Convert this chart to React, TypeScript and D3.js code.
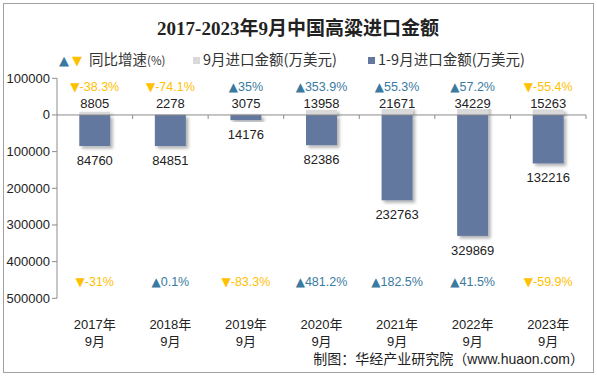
import React from "react";
import * as d3 from "d3";

const years = ["2017年", "2018年", "2019年", "2020年", "2021年", "2022年", "2023年"];
const monthLabel = "9月";
const sepValues = [8805, 2278, 3075, 13958, 21671, 34229, 15263];
const cumValues = [84760, 84851, 14176, 82386, 232763, 329869, 132216];
const sepGrowth = [-38.3, -74.1, 35, 353.9, 55.3, 57.2, -55.4];
const cumGrowth = [-31, 0.1, -83.3, 481.2, 182.5, 41.5, -59.9];
const yTicks = [100000, 0, -100000, -200000, -300000, -400000, -500000];

const W = 597;
const H = 377;
const UP = "#3a7aa0";
const DOWN = "#ffc000";
const BLUE = "#64789f";
const GRAY = "#d9d9d9";
const NUM_FONT = "'Liberation Sans', Arial, sans-serif";
const CJK_FONT = "'Liberation Sans', 'Noto Sans CJK SC', sans-serif";
const TRI_FONT = "'DejaVu Sans', sans-serif";

export default function App() {
  const x = d3.scaleBand<string>().domain(years).range([57, 586]).paddingInner(0).paddingOuter(0);
  const y = d3.scaleLinear().domain([100000, -500000]).range([78.3, 298.3]);
  const barW = 31;
  const y0 = y(0);

  const pct = (v: number, cx: number, yy: number) => (
    <text x={cx} y={yy} fill={v >= 0 ? UP : DOWN} fontSize={12.5} textAnchor="middle" fontFamily={NUM_FONT}>
      <tspan fontFamily={TRI_FONT} fontSize={12}>{v >= 0 ? "▲" : "▼"}</tspan>
      {String(v) + "%"}
    </text>
  );

  return (
    <svg width={W} height={H} style={{ position: "absolute", left: 0, top: 0, background: "#fff" }}>
      <defs>
        <filter id="sh" x="-20%" y="-20%" width="150%" height="150%">
          <feDropShadow dx="2.5" dy="2.5" stdDeviation="1.5" floodColor="#000" floodOpacity="0.3" />
        </filter>
      </defs>
      <rect x={3.5} y={3.5} width={590} height={369} fill="#fff" stroke="#a0a0a0" strokeWidth={1} />
      <text x={298} y={35} textAnchor="middle" fontSize={19} fontWeight="bold"
        fontFamily="'Liberation Serif', 'Noto Sans CJK SC', serif" fill="#222">
        2017-2023年9月中国高粱进口金额
      </text>

      {/* legend */}
      <g fontFamily="'Noto Sans CJK SC', sans-serif" fontSize={14.5} fill="#333">
        <text x={59} y={65} fontSize={13} fill={UP} fontFamily={TRI_FONT}>▲</text>
        <text x={72} y={65} fontSize={13} fill={DOWN} fontFamily={TRI_FONT}>▼</text>
        <text x={89} y={65}>同比增速<tspan fontSize={11.5}>(%)</tspan></text>
        <rect x={193} y={57} width={7} height={7} fill={GRAY} />
        <text x={203} y={65}>9月进口金额(万美元)</text>
        <rect x={368} y={57} width={7} height={7} fill={BLUE} />
        <text x={378} y={65}>1-9月进口金额(万美元)</text>
      </g>

      {/* y axis */}
      <line x1={57} x2={57} y1={y(100000)} y2={y(-500000)} stroke="#8c8c8c" />
      {yTicks.map((t) => (
        <g key={t}>
          <line x1={52} x2={57} y1={y(t)} y2={y(t)} stroke="#8c8c8c" />
          <text x={50} y={y(t) + 4.5} textAnchor="end" fontSize={13} fontFamily={NUM_FONT} fill="#222">
            {Math.abs(t)}
          </text>
        </g>
      ))}

      {/* bars */}
      {years.map((yr, i) => {
        const cx = (x(yr) as number) + x.bandwidth() / 2;
        return (
          <g key={yr}>
            <rect x={cx - barW / 2} y={y(sepValues[i])} width={barW} height={y0 - y(sepValues[i])}
              fill={GRAY} filter="url(#sh)" />
            <rect x={cx - barW / 2} y={y0} width={barW} height={y(-cumValues[i]) - y0}
              fill={BLUE} filter="url(#sh)" />
          </g>
        );
      })}

      {/* x axis */}
      <line x1={57} x2={586} y1={y0} y2={y0} stroke="#8c8c8c" />
      {years.map((yr) => (
        <line key={yr} x1={(x(yr) as number) + x.bandwidth()} x2={(x(yr) as number) + x.bandwidth()}
          y1={y0} y2={y0 + 4} stroke="#8c8c8c" />
      ))}

      {/* labels */}
      {years.map((yr, i) => {
        const cx = (x(yr) as number) + x.bandwidth() / 2;
        return (
          <g key={yr} fontFamily={NUM_FONT} fontSize={13} textAnchor="middle">
            {pct(sepGrowth[i], cx, 91)}
            <rect x={cx - 22} y={97} width={44} height={12} fill="#fff" />
            <text x={cx} y={107.5} fill="#222">{sepValues[i]}</text>
            <text x={cx} y={y(-cumValues[i]) + 19} fill="#222">{cumValues[i]}</text>
            {pct(cumGrowth[i], cx, 286)}
            <text x={cx} y={329} fill="#222" fontFamily={CJK_FONT}>{yr}</text>
            <text x={cx} y={346} fill="#222" fontFamily={CJK_FONT}>{monthLabel}</text>
          </g>
        );
      })}

      <text x={584} y={364} textAnchor="end" fontSize={14} fontFamily={CJK_FONT} fill="#222">
        制图：华经产业研究院（www.huaon.com）
      </text>
    </svg>
  );
}
